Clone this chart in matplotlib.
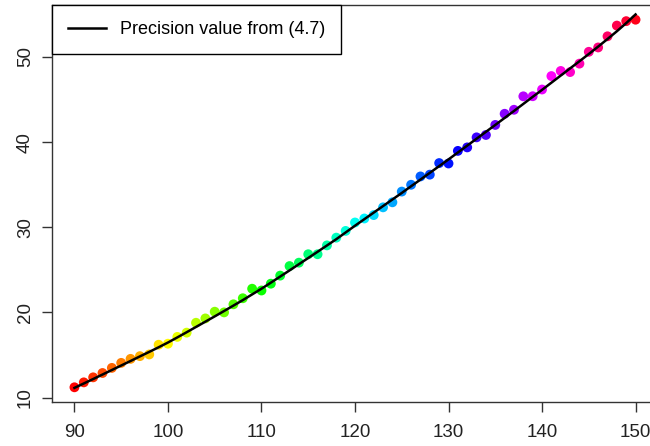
import colorsys
import numpy as np
import matplotlib
matplotlib.use("Agg")
import matplotlib.pyplot as plt

plt.rcParams['font.family'] = ['Liberation Sans', 'DejaVu Sans']

# sample sizes on the x axis
n_values = list(range(90, 151))

observed = [11.20, 11.78, 12.37, 12.88, 13.48, 14.07, 14.54, 14.86, 15.06, 16.20,
            16.32, 17.12, 17.62, 18.78, 19.29, 20.08, 20.00, 20.95, 21.66, 22.78,
            22.57, 23.37, 24.32, 25.44, 25.84, 26.83, 26.83, 27.87, 28.78, 29.57,
            30.56, 31.03, 31.43, 32.34, 32.93, 34.19, 34.99, 35.97, 36.18, 37.54,
            37.49, 38.97, 39.38, 40.56, 40.84, 42.02, 43.33, 43.80, 45.38, 45.39,
            46.18, 47.76, 48.36, 48.23, 49.22, 50.61, 51.12, 52.43, 53.69, 54.21,
            54.38]

# precision curve from (4.7)
precision = [11.13, 11.65, 12.17, 12.70, 13.23, 13.76, 14.29, 14.83, 15.36, 15.90,
             16.46, 17.06, 17.67, 18.29, 18.91, 19.53, 20.16, 20.80, 21.44, 22.11,
             22.78, 23.49, 24.21, 24.93, 25.66, 26.39, 27.12, 27.86, 28.60, 29.39,
             30.18, 30.95, 31.72, 32.49, 33.26, 34.03, 34.82, 35.60, 36.39, 37.18,
             37.97, 38.78, 39.59, 40.40, 41.21, 42.02, 42.84, 43.66, 44.49, 45.32,
             46.14, 46.98, 47.82, 48.66, 49.50, 50.35, 51.22, 52.11, 53.02, 53.98,
             55.00]

legend_label = "Precision value from (4.7)"

# R style rainbow(n)
n = len(n_values)
colors = [colorsys.hsv_to_rgb(i / n, 1, 1) for i in range(n)]

fig = plt.figure(figsize=(6.5, 4.46), dpi=100)
ax = fig.add_axes([52 / 650, 1 - 402 / 446, 606 / 650, 397 / 446])

ax.scatter(n_values, observed, c=colors, s=50, linewidths=0, zorder=2)
ax.plot(n_values, precision, color="black", lw=1.8, zorder=3, label=legend_label)

# R default 4% padding
xr = max(n_values) - min(n_values)
ax.set_xlim(min(n_values) - 0.04 * xr, max(n_values) + 0.04 * xr)
yr = max(observed) - min(observed)
ax.set_ylim(min(observed) - 0.04 * yr, max(observed) + 0.04 * yr)

ax.set_xticks(range(90, 151, 10))
ax.set_yticks(range(10, 51, 10))
ax.tick_params(axis="both", direction="out", length=7, width=1, labelsize=13.5,
               color="#333333", labelcolor="#222222")
ax.tick_params(axis="x", pad=9)
ax.tick_params(axis="y", pad=6)
for lab in ax.get_yticklabels():
    lab.set_rotation(90)
    lab.set_va("center")
for sp in ax.spines.values():
    sp.set_color("#333333")
    sp.set_linewidth(1)

leg = ax.legend(loc="upper left", borderaxespad=0, fancybox=False, framealpha=1,
                edgecolor="black", fontsize=13, handlelength=2.1, handletextpad=0.78,
                borderpad=0.89)
leg.get_frame().set_linewidth(1)

fig.savefig("out.png", dpi=100)
